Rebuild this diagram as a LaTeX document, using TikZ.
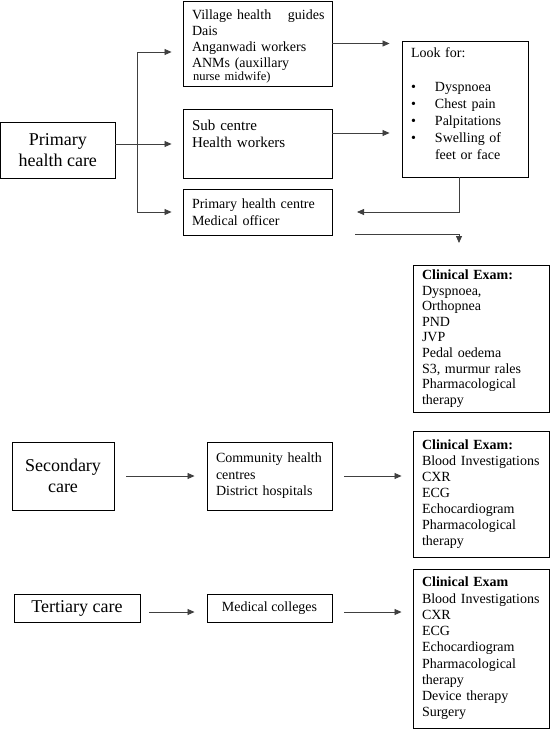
\documentclass[tikz,border=0pt]{standalone}
\usepackage{fontspec}
\setmainfont{Liberation Serif}
\usetikzlibrary{positioning,arrows.meta}

\tikzset{
  box/.style={draw, rectangle, line width=0.9pt, inner xsep=9pt, inner ysep=0pt},
  txt/.style={box, align=left, font=\fontsize{14}{16}\selectfont},
  big/.style={box, align=center, font=\fontsize{18}{20.5}\selectfont},
  arr/.style={-{Triangle[length=7pt,width=6pt]}, line width=0.8pt, draw=black!75},
}
\newcommand{\bul}{\makebox[24pt][l]{\textbullet}}

\begin{document}
\begin{tikzpicture}[x=1pt, y=-1pt]
\useasboundingbox (0,0) rectangle (551,729);

% primary level
\node[big, minimum width=114.5pt, minimum height=56pt] (primary) at (57.75,150) {Primary\\health care};
\node[txt, text width=131pt, minimum height=85pt, text depth=58pt] (village) at (257.5,43.5) {\mbox{Village health\hspace{12pt} guides}\\Dais\\Anganwadi workers\\ANMs (auxillary\\[-3pt]{\fontsize{12.5}{13}\selectfont\hspace{1pt}nurse midwife)}};
\node[txt, font=\fontsize{15}{17}\selectfont, text width=131pt, minimum height=69pt, text depth=37pt] (subc) at (257.5,143.5) {Sub centre\\Health workers};
\node[txt, font=\fontsize{14}{17}\selectfont, text width=131pt, minimum height=46pt] (phc) at (257.5,212) {Primary health centre\\Medical officer};
\node[txt, font=\fontsize{14}{17}\selectfont, text width=108pt, minimum height=136pt, text depth=112pt] (lookfor) at (465,109) {Look for:\\[17pt]\bul Dyspnoea\\\bul Chest pain\\\bul Palpitations\\\bul Swelling of\\\hspace*{24pt}feet or face};
\node[txt, font=\fontsize{14}{15.6}\selectfont, text width=118.5pt, minimum height=147pt] (clin1) at (481.25,338.5) {\textbf{Clinical Exam:}\\Dyspnoea,\\Orthopnea\\PND\\JVP\\Pedal oedema\\S3, murmur rales\\Pharmacological\\therapy};

\coordinate (b1) at (137,52);
\coordinate (b2) at (137,144);
\coordinate (b3) at (137,212);
\coordinate (back) at (357,212);
\coordinate (fwd) at (355,234);
\coordinate (down) at (459,243);

\draw[arr, -] (primary.east |- b2) -- (b2);
\draw[arr, -] (b1) -- (b3);
\draw[arr, shorten >=11pt] (b1) -- (b1 -| village.west);
\draw[arr, shorten >=11pt] (b2) -- (b2 -| subc.west);
\draw[arr, shorten >=11pt] (b3) -- (b3 -| phc.west);
\draw[arr, shorten >=12pt] (village.east) -- (village.east -| lookfor.west);
\draw[arr, shorten >=12pt] ([yshift=10.5pt]subc.east) -- ([yshift=10.5pt]subc.east -| lookfor.west);
\draw[arr] ([xshift=-6pt]lookfor.south) |- (back);
\draw[arr] (fwd) -| (down);

% secondary level
\node[big, minimum width=102pt, minimum height=68pt] (secondary) at (63,476) {Secondary\\care};
\node[txt, font=\fontsize{14}{16.5}\selectfont, text width=107pt, minimum height=68pt] (community) at (269.5,476) {Community health\\centres\\District hospitals};
\node[txt, text width=118.5pt, minimum height=126pt] (clin2) at (481.25,494) {\textbf{Clinical Exam:}\\Blood Investigations\\CXR\\ECG\\Echocardiogram\\Pharmacological\\therapy};

\draw[arr, shorten <=12pt, shorten >=12pt] (secondary) -- (community);
\draw[arr, shorten <=12pt, shorten >=11pt] (community.east) -- (community.east -| clin2.west);

% tertiary level
\node[big, minimum width=126pt, minimum height=28pt] (tertiary) at (77,608) {Tertiary care};
\node[box, font=\fontsize{14}{16}\selectfont, minimum width=125pt, minimum height=28pt] (medcol) at (269.5,608) {Medical colleges};
\node[txt, font=\fontsize{14}{16.25}\selectfont, text width=118.5pt, minimum height=159pt] (clin3) at (481.25,648.5) {\textbf{Clinical Exam}\\Blood Investigations\\CXR\\ECG\\Echocardiogram\\Pharmacological\\therapy\\Device therapy\\Surgery};

\draw[arr, shorten <=9pt, shorten >=12pt] ([yshift=-4pt]tertiary.east) -- ([yshift=-4pt]tertiary.east -| medcol.west);
\draw[arr, shorten <=12pt, shorten >=11pt] ([yshift=-4pt]medcol.east) -- ([yshift=-4pt]medcol.east -| clin3.west);
\end{tikzpicture}
\end{document}
